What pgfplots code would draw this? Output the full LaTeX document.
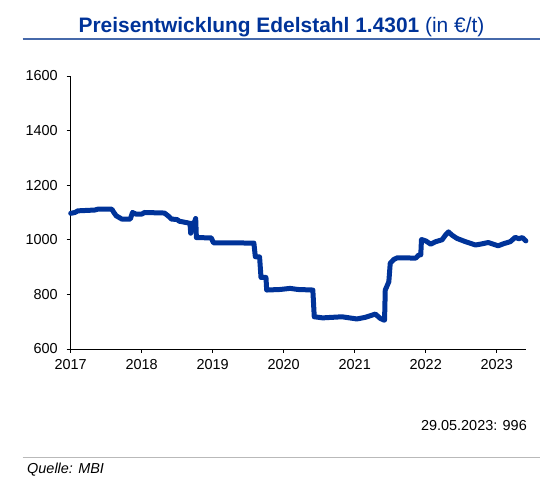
\documentclass[border=0pt]{standalone}
\usepackage{pgfplots}
\pgfplotsset{compat=1.18}
\usepackage{fontspec}
\setmainfont{Liberation Sans}

\definecolor{mbiblue}{RGB}{0,51,153}
\definecolor{ruleblue}{RGB}{70,105,170}
\definecolor{rulegray}{RGB}{185,185,185}

% price per tonne, x = decimal year
\pgfplotstableread{
year price
2017.00 1097
2017.06 1100
2017.10 1106
2017.34 1109
2017.38 1112
2017.58 1112
2017.60 1103
2017.64 1088
2017.72 1076
2017.84 1076
2017.87 1100
2017.92 1094
2018.00 1094
2018.04 1100
2018.32 1098
2018.37 1088
2018.42 1076
2018.50 1074
2018.53 1068
2018.65 1062
2018.68 1060
2018.69 1024
2018.70 1060
2018.74 1062
2018.76 1078
2018.77 1008
2018.98 1007
2019.01 989
2019.58 988
2019.60 938
2019.66 937
2019.68 862
2019.75 862
2019.76 816
2019.95 818
2020.09 822
2020.20 818
2020.41 816
2020.43 718
2020.55 714
2020.82 718
2021.03 710
2021.15 716
2021.29 728
2021.36 712
2021.41 706
2021.42 706
2021.43 816
2021.48 846
2021.50 914
2021.55 928
2021.60 934
2021.86 933
2021.90 944
2021.93 945
2021.94 1001
2022.00 996
2022.07 984
2022.14 993
2022.23 1000
2022.28 1018
2022.32 1029
2022.37 1017
2022.44 1005
2022.56 993
2022.70 981
2022.77 984
2022.88 990
2022.95 984
2023.02 978
2023.10 986
2023.19 993
2023.26 1009
2023.31 1004
2023.36 1008
2023.41 996
}\pricedata

\begin{document}
\fontsize{14.5}{17}\selectfont
\begin{tikzpicture}[x=1bp,y=1bp]
  \useasboundingbox (0,0) rectangle (560,487);

  % title and rules
  \node[anchor=base,text=mbiblue,inner sep=0pt,font=\fontsize{21}{24}\selectfont]
    at (281.5,454) {\textbf{Preisentwicklung Edelstahl 1.4301} (in €/t)};
  \draw[ruleblue,line width=1.5bp] (22.7,448) -- (540,448);
  \draw[rulegray,line width=1bp] (22.7,29) -- (540,29);
  \node[anchor=base west,inner sep=0pt] at (27,13) {\itshape Quelle: MBI};
  \node[anchor=base east,inner sep=0pt] at (527,56) {29.05.2023: 996};

  \begin{axis}[
      at={(70.7bp,138bp)},
      anchor=origin,
      scale only axis,
      width=455.5bp,
      height=273bp,
      xmin=2017, xmax=2023.415,
      ymin=600, ymax=1600,
      axis lines*=left,
      axis line style={black,line width=0.8bp},
      tick style={black,line width=0.8bp},
      tick align=outside,
      major tick length=4bp,
      xtick={2017,2018,...,2023},
      ytick={600,800,...,1600},
      /pgf/number format/assume math mode=true,
      /pgf/number format/1000 sep={},
      ticklabel style={font=\fontsize{14.5}{17}\selectfont},
      xticklabel style={yshift=-1bp},
      yticklabel style={xshift=-4bp},
      clip=false,
    ]
    \addplot[mbiblue,line width=5bp,line join=round,line cap=round]
      table[x=year,y=price] {\pricedata};
  \end{axis}
\end{tikzpicture}
\end{document}
